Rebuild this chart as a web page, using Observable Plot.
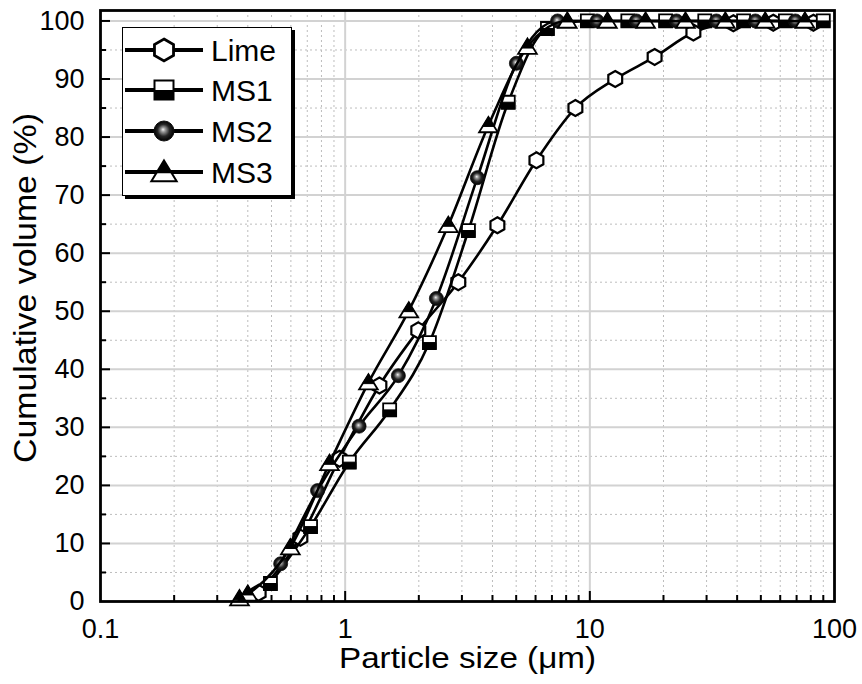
<!DOCTYPE html>
<html><head><meta charset="utf-8">
<script src="https://cdn.jsdelivr.net/npm/d3@7"></script>
<script src="https://cdn.jsdelivr.net/npm/@observablehq/plot@0.6"></script>
<style>
body{margin:0;background:#fff;}
#wrap{position:relative;width:862px;height:684px;font-family:"Liberation Sans",Arial,sans-serif;}
#legend{position:absolute;left:122px;top:27px;width:168px;height:167px;border:1.5px solid #000;background:#fff;box-shadow:3px 3px 0 #000;}
</style></head><body>
<svg width="0" height="0" style="position:absolute"><defs>
<radialGradient id="sph" cx="0.5" cy="0.5" r="0.5" fx="0.45" fy="0.42">
<stop offset="0" stop-color="#f2f2f2"/><stop offset="0.22" stop-color="#9a9a9a"/><stop offset="0.6" stop-color="#262626"/><stop offset="1" stop-color="#000"/>
</radialGradient></defs></svg>
<div id="wrap"><div id="legend"></div></div>
<script>
// ---- data (particle size in µm, cumulative volume in %) ----
const seriesNames = ["Lime", "MS1", "MS2", "MS3"];
const limeX = [0.443, 0.656, 0.948, 1.38, 1.99, 2.90, 4.19, 6.05, 8.73, 12.7, 18.4, 26.5, 38.6, 56.2, 82];
const limeY = [1.5, 11.0, 24.6, 37.2, 46.7, 55.0, 64.8, 76.0, 85.0, 90.0, 93.8, 98.0, 99.6, 99.7, 99.7];
const ms1X = [0.495, 0.722, 1.04, 1.52, 2.21, 3.19, 4.64, 6.71, 9.77, 14.3, 20.4, 29.5, 42.5, 63, 90];
const ms1Y = [3.1, 12.9, 24.0, 33.0, 44.6, 63.9, 86.0, 98.7, 100, 100, 100, 100, 100, 100, 100];
const ms2X = [0.545, 0.771, 1.14, 1.65, 2.36, 3.47, 5.01, 7.38, 10.7, 15.5, 22.6, 32.9, 47.5, 69.2];
const ms2Y = [6.5, 19.1, 30.2, 38.9, 52.2, 73.0, 92.7, 100, 100, 100, 100, 100, 100, 100];
const ms3X = [0.37, 0.40, 0.597, 0.863, 1.245, 1.82, 2.64, 3.85, 5.56, 8.09, 11.8, 16.9, 24.6, 35.8, 52.1, 75.7];
const ms3Y = [0.5, 1.3, 9.3, 23.8, 37.7, 50.1, 64.8, 82.0, 95.5, 100, 100, 100, 100, 100, 100, 100];
const xTickLabels = [0.1, 1, 10, 100];
const yTickLabels = [0, 10, 20, 30, 40, 50, 60, 70, 80, 90, 100];
const xTitle = "Particle size (\u03bcm)";
const yTitle = "Cumulative volume (%)";

const toRows = (xs, ys) => xs.map((x, i) => ({x, y: ys[i]}));
const lime = toRows(limeX, limeY), ms1 = toRows(ms1X, ms1Y), ms2 = toRows(ms2X, ms2Y), ms3 = toRows(ms3X, ms3Y);

// minor/major grid values
const xMajor = [1, 10];
const xMinor = [];
for (const d of [0.1, 1, 10]) for (let k = 2; k <= 9; k++) xMinor.push(+(d * k).toPrecision(3));
const yMajor = yTickLabels.filter(v => v > 0);
const yMinor = d3.range(5, 100, 10);

// ---- custom symbols ----
const R = s => Math.sqrt(s / Math.PI);
const hexFull = {draw(c, s) { const r = R(s); for (let k = 0; k < 6; k++) { const a = -Math.PI / 2 + k * Math.PI / 3; const x = r * Math.cos(a), y = r * Math.sin(a); k ? c.lineTo(x, y) : c.moveTo(x, y); } c.closePath(); }};
const sqFull = {draw(c, s) { const r = R(s); c.rect(-r, -r, 2 * r, 2 * r); }};
const sqBottom = {draw(c, s) { const r = R(s); c.rect(-r, 0, 2 * r, r); }};
const triFull = {draw(c, s) { const r = R(s); c.moveTo(0, -r); c.lineTo(r * 1.1, r * 0.8); c.lineTo(-r * 1.1, r * 0.8); c.closePath(); }};
const triTop = {draw(c, s) { const r = R(s); const f = 0.62; c.moveTo(0, -r); c.lineTo(r * 1.1 * f, -r + 1.8 * r * f); c.lineTo(-r * 1.1 * f, -r + 1.8 * r * f); c.closePath(); }};
const circ = {draw(c, s) { const r = R(s); c.moveTo(r, 0); c.arc(0, 0, r, 0, 2 * Math.PI); }};

const W = 862, H = 684, mL = 100, mR = 28, mT = 10, mB = 83;
const plotW = W - mL - mR, plotH = H - mT - mB;

function seriesMarks(data, kind) {
  const line = Plot.line(data, {x: "x", y: "y", curve: "monotone-x", stroke: "#000", strokeWidth: 2.6});
  if (kind === "hex") return [line, Plot.dot(data, {x: "x", y: "y", symbol: hexFull, r: 8, fill: "#fff", stroke: "#000", strokeWidth: 2.2})];
  if (kind === "sq") return [line,
    Plot.dot(data, {x: "x", y: "y", symbol: sqFull, r: 6.5, fill: "#fff", stroke: "#000", strokeWidth: 1.8}),
    Plot.dot(data, {x: "x", y: "y", symbol: sqBottom, r: 6.5, fill: "#000", stroke: "#000", strokeWidth: 1})];
  if (kind === "sph") return [line, Plot.dot(data, {x: "x", y: "y", symbol: circ, r: 7, fill: "url(#sph)", stroke: "#111", strokeWidth: 0.8})];
  return [line,
    Plot.dot(data, {x: "x", y: "y", symbol: triFull, r: 8.5, fill: "#fff", stroke: "#000", strokeWidth: 1.8}),
    Plot.dot(data, {x: "x", y: "y", symbol: triTop, r: 8.5, fill: "#000", stroke: "#000", strokeWidth: 1})];
}

const chart = Plot.plot({
  width: W, height: H, marginLeft: mL, marginRight: mR, marginTop: mT, marginBottom: mB,
  x: {type: "log", domain: [0.1, 100]},
  y: {domain: [0, 101.8]},
  style: {fontFamily: "'Liberation Sans', Arial, sans-serif", fontSize: "26px", background: "#fff", color: "#000", overflow: "visible"},
  marks: [
    Plot.ruleX(xMinor, {stroke: "#bdbdbd", strokeWidth: 1, strokeDasharray: "2,3"}),
    Plot.ruleY(yMinor, {stroke: "#bdbdbd", strokeWidth: 1, strokeDasharray: "2,3"}),
    Plot.ruleX(xMajor, {stroke: "#d2d2d2", strokeWidth: 2}),
    Plot.ruleY(yMajor, {stroke: "#d2d2d2", strokeWidth: 2}),
    Plot.tickY(yMajor, {y: d => d, insetRight: plotW - 10, stroke: "#000", strokeWidth: 2}),
    Plot.tickY(yMinor, {y: d => d, insetRight: plotW - 6, stroke: "#000", strokeWidth: 2}),
    Plot.tickX(xMajor, {x: d => d, insetTop: plotH - 10, stroke: "#000", strokeWidth: 2}),
    Plot.tickX(xMinor, {x: d => d, insetTop: plotH - 6, stroke: "#000", strokeWidth: 2}),
    Plot.axisX(xTickLabels, {tickSize: 0, tickPadding: 17, tickFormat: d => String(d), fontSize: 27, label: null}),
    Plot.axisY(yTickLabels, {tickSize: 0, tickPadding: 16, fontSize: 27, label: null}),
    Plot.text([xTitle], {frameAnchor: "bottom", dy: 66, fontSize: 29, text: d => d}),
    Plot.text([yTitle], {frameAnchor: "left", textAnchor: "middle", dx: -74, dy: -18, rotate: -90, fontSize: 31, text: d => d}),
    ...seriesMarks(lime, "hex"),
    ...seriesMarks(ms1, "sq"),
    ...seriesMarks(ms2, "sph"),
    ...seriesMarks(ms3, "tri"),
    Plot.frame({stroke: "#000", strokeWidth: 2.8})
  ]
});
document.getElementById("wrap").prepend(chart);
// stretch axis titles to the reference's text widths
d3.select(chart).selectAll("text").each(function () {
  const t = this.textContent;
  if (t === xTitle) d3.select(this).attr("textLength", 257).attr("lengthAdjust", "spacingAndGlyphs");
  if (t === yTitle) d3.select(this).attr("textLength", 350).attr("lengthAdjust", "spacingAndGlyphs");
});

// ---- legend ----
const kinds = ["hex", "sq", "sph", "tri"];
const lg = d3.select("#legend").append("svg").attr("width", 168).attr("height", 167)
  .style("font-family", "'Liberation Sans', Arial, sans-serif");
const rowY = [22, 62, 103, 144];
const sym = (t, r) => d3.symbol().type(t).size(Math.PI * r * r)();
seriesNames.forEach((name, i) => {
  const g = lg.append("g").attr("transform", `translate(0,${rowY[i]})`);
  g.append("line").attr("x1", 2).attr("x2", 80).attr("stroke", "#000").attr("stroke-width", 4);
  const m = g.append("g").attr("transform", "translate(41,0)");
  const k = kinds[i];
  if (k === "hex") m.append("path").attr("d", sym(hexFull, 11)).attr("fill", "#fff").attr("stroke", "#000").attr("stroke-width", 2.8);
  if (k === "sq") { m.append("path").attr("d", sym(sqFull, 9.5)).attr("fill", "#fff").attr("stroke", "#000").attr("stroke-width", 2);
    m.append("path").attr("d", sym(sqBottom, 9.5)).attr("fill", "#000"); }
  if (k === "sph") m.append("path").attr("d", sym(circ, 10)).attr("fill", "url(#sph)").attr("stroke", "#111").attr("stroke-width", 1);
  if (k === "tri") { m.append("path").attr("d", sym(triFull, 11.5)).attr("fill", "#fff").attr("stroke", "#000").attr("stroke-width", 2);
    m.append("path").attr("d", sym(triTop, 11.5)).attr("fill", "#000"); }
  g.append("text").attr("x", 88).attr("y", 0).attr("dy", "0.36em").attr("font-size", 30).text(name);
});
</script>
</body></html>
